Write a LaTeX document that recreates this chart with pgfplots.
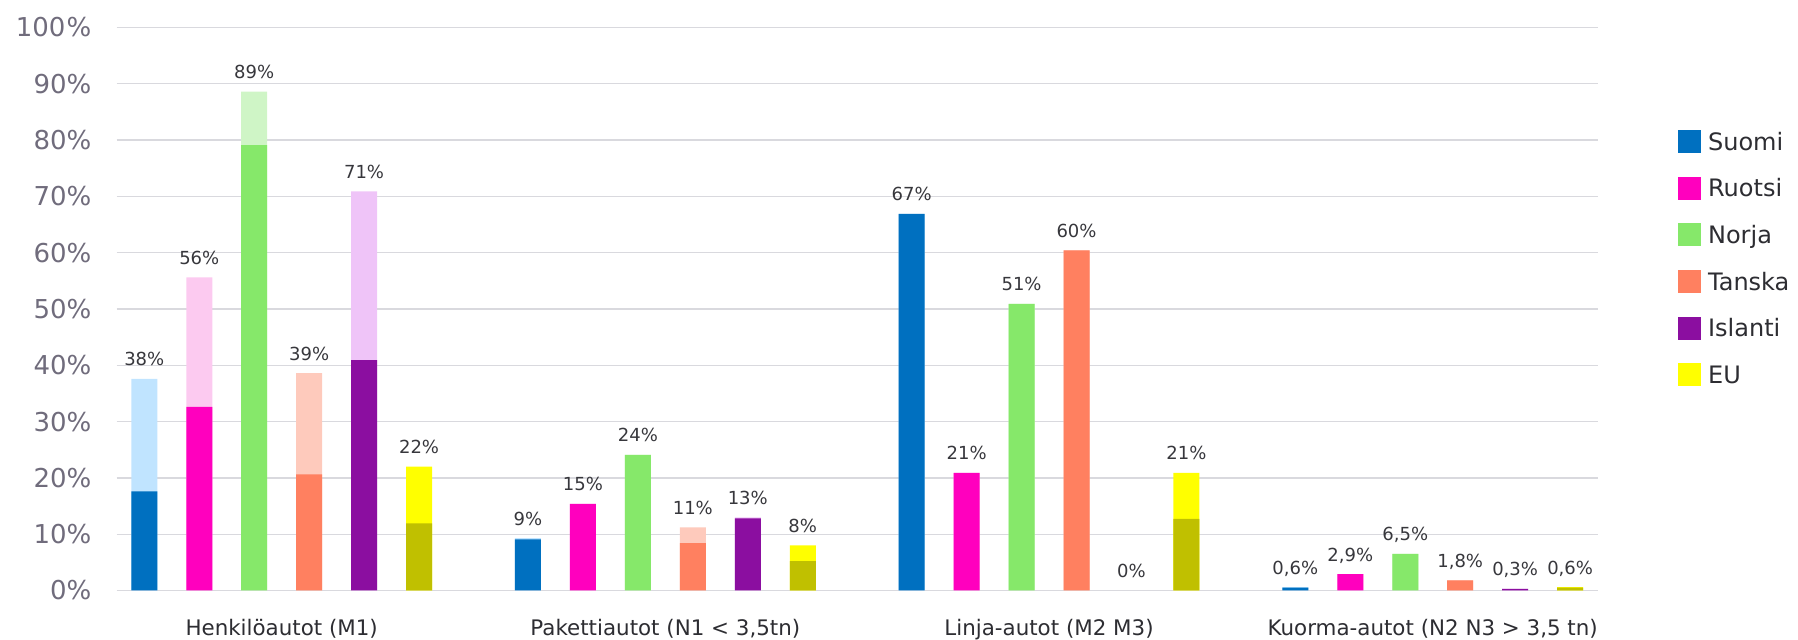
\documentclass[border=0pt]{standalone}
\usepackage{fontspec}
\setmainfont{DejaVu Sans}
\usepackage{pgfplots}
\usepackage{pgfplotstable}
\pgfplotsset{compat=1.18}

% series colours: dark = lower segment, light = upper segment
\definecolor{suomiD}{HTML}{0070C0}
\definecolor{suomiL}{HTML}{C0E4FF}
\definecolor{ruotsiD}{HTML}{FF00BE}
\definecolor{ruotsiL}{HTML}{FCCAF0}
\definecolor{norjaD}{HTML}{86E86A}
\definecolor{norjaL}{HTML}{CFF5C6}
\definecolor{tanskaD}{HTML}{FF8060}
\definecolor{tanskaL}{HTML}{FECABC}
\definecolor{islantiD}{HTML}{8B0EA0}
\definecolor{islantiL}{HTML}{EFC4F8}
\definecolor{euD}{HTML}{C0C000}
\definecolor{euL}{HTML}{FFFF00}
\definecolor{gridc}{RGB}{217,217,222}
\definecolor{ytickc}{RGB}{112,108,124}
\definecolor{valtext}{RGB}{55,55,60}
\definecolor{cattext}{RGB}{45,45,50}

% g = vehicle category, total = whole bar, bottom = dark segment
\pgfplotstableread{
g total bottom label
0 37.6 17.6 38
1 9.3  9.1  9
2 66.9 66.9 67
3 0.6  0.5  0,6
}\suomi
\pgfplotstableread{
g total bottom label
0 55.6 32.6 56
1 15.4 15.4 15
2 20.9 20.9 21
3 2.9  2.9  2,9
}\ruotsi
\pgfplotstableread{
g total bottom label
0 88.6 79.1 89
1 24.1 24.1 24
2 50.9 50.9 51
3 6.5  6.5  6,5
}\norja
\pgfplotstableread{
g total bottom label
0 38.6 20.6 39
1 11.2 8.4  11
2 60.4 60.4 60
3 1.8  1.8  1,8
}\tanska
\pgfplotstableread{
g total bottom label
0 70.9 40.9 71
1 13.0 12.8 13
2 0    0    0
3 0.3  0.3  0,3
}\islanti
\pgfplotstableread{
g total bottom label
0 22.0 11.9 22
1 8.0  5.2  8
2 20.9 12.7 21
3 0.6  0.5  0,6
}\eu

\pgfplotsset{
  cbar/.style={ybar, bar width=0.0677, bar shift=#1, draw=none,
    restrict y to domain=0.001:200},
  % value labels above the bars, offset to each series' slot
  cval/.style={draw=none, mark=none, forget plot,
    nodes near coords={\pgfplotspointmeta\%},
    point meta=explicit symbolic,
    nodes near coords style={anchor=base, yshift=6.5pt, inner sep=0pt,
      font=\fontsize{9}{11}\selectfont, text=valtext}},
  sq/.style={legend image code/.code={\fill[#1] (0pt,-5.5pt) rectangle (11pt,5.5pt);}},
}

\begin{document}
\begin{tikzpicture}
\path[use as bounding box] (0,0) rectangle (899pt,320pt);
\begin{axis}[
  at={(58.35pt,24.75pt)}, anchor=south west,
  scale only axis, width=740.5pt, height=281.55pt,
  xmin=-0.43, xmax=3.43, ymin=0, ymax=100,
  axis line style={draw=none},
  major tick length=0pt,
  ymajorgrids, grid style={gridc, line width=0.65pt},
  ytick={0,10,...,100},
  yticklabels={0\%,10\%,20\%,30\%,40\%,50\%,60\%,70\%,80\%,90\%,100\kern0.6pt\%},
  yticklabel style={anchor=east, inner sep=0pt, xshift=-12.5pt,
    font=\fontsize{13}{15}\selectfont, text=ytickc},
  xtick={0,1,2,3},
  xticklabels={Henkilöautot (M1),{Pakettiautot (N1 < 3,5tn)},Linja-autot (M2 M3),{Kuorma-autot (N2 N3 > 3,5 tn)}},
  xticklabel style={anchor=base, inner sep=0pt, yshift=-22.75pt,
    font=\fontsize{10.7}{13}\selectfont, text=cattext},
  legend style={at={(1.054,0.8178)}, anchor=north west,
    draw=none, fill=none, inner sep=0pt, outer sep=0pt,
    row sep=11.95pt, column sep=0pt,
    font=\fontsize{12}{14}\selectfont, text=cattext,
    nodes={inner sep=0pt, text height=9.9pt, text depth=1.1pt},
    /tikz/every odd column/.append style={column sep=3.8pt}},
  legend cell align=left,
]
% Suomi
\addplot[cbar=-0.3581, fill=suomiL, forget plot] table[x=g, y=total] {\suomi};
\addplot[cbar=-0.3581, fill=suomiD, forget plot] table[x=g, y=bottom] {\suomi};
% Ruotsi
\addplot[cbar=-0.2148, fill=ruotsiL, forget plot] table[x=g, y=total] {\ruotsi};
\addplot[cbar=-0.2148, fill=ruotsiD, forget plot] table[x=g, y=bottom] {\ruotsi};
% Norja
\addplot[cbar=-0.0716, fill=norjaL, forget plot] table[x=g, y=total] {\norja};
\addplot[cbar=-0.0716, fill=norjaD, forget plot] table[x=g, y=bottom] {\norja};
% Tanska
\addplot[cbar=0.0716, fill=tanskaL, forget plot] table[x=g, y=total] {\tanska};
\addplot[cbar=0.0716, fill=tanskaD, forget plot] table[x=g, y=bottom] {\tanska};
% Islanti
\addplot[cbar=0.2148, fill=islantiL, forget plot] table[x=g, y=total] {\islanti};
\addplot[cbar=0.2148, fill=islantiD, forget plot] table[x=g, y=bottom] {\islanti};
% EU
\addplot[cbar=0.3581, fill=euL, forget plot] table[x=g, y=total] {\eu};
\addplot[cbar=0.3581, fill=euD, forget plot] table[x=g, y=bottom] {\eu};

% value labels
\addplot[cval] table[x expr=\thisrow{g}-0.3581, y=total, meta=label] {\suomi};
\addplot[cval] table[x expr=\thisrow{g}-0.2148, y=total, meta=label] {\ruotsi};
\addplot[cval] table[x expr=\thisrow{g}-0.0716, y=total, meta=label] {\norja};
\addplot[cval] table[x expr=\thisrow{g}+0.0716, y=total, meta=label] {\tanska};
\addplot[cval] table[x expr=\thisrow{g}+0.2148, y=total, meta=label] {\islanti};
\addplot[cval] table[x expr=\thisrow{g}+0.3581, y=total, meta=label] {\eu};

\addlegendimage{sq=suomiD}\addlegendentry{Suomi}
\addlegendimage{sq=ruotsiD}\addlegendentry{Ruotsi}
\addlegendimage{sq=norjaD}\addlegendentry{Norja}
\addlegendimage{sq=tanskaD}\addlegendentry{Tanska}
\addlegendimage{sq=islantiD}\addlegendentry{Islanti}
\addlegendimage{sq=euL}\addlegendentry{EU}
\end{axis}
\end{tikzpicture}
\end{document}
